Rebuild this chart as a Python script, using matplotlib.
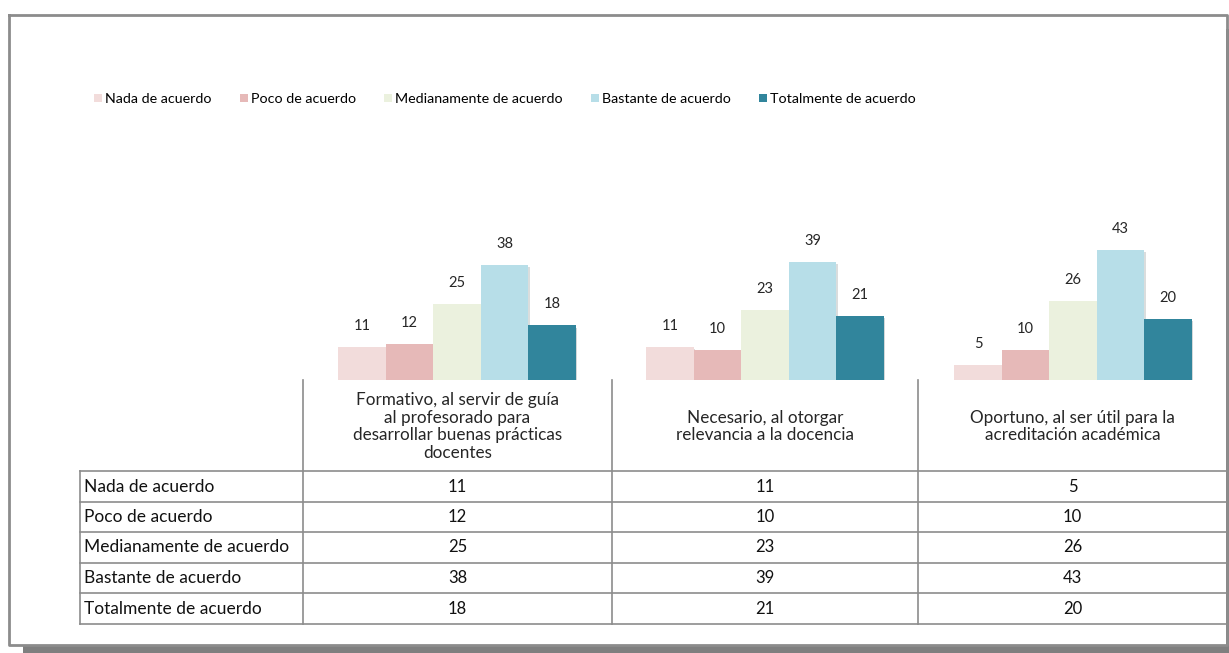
import numpy as np
import matplotlib.pyplot as plt
import matplotlib.patheffects as pe
from matplotlib.patches import Patch

plt.rcParams['font.family'] = ['Lato', 'DejaVu Sans']

# ---------------- datos ----------------
categorias = [
    'Formativo, al servir de guía\nal profesorado para\ndesarrollar buenas prácticas\ndocentes',
    'Necesario, al otorgar\nrelevancia a la docencia',
    'Oportuno, al ser útil para la\nacreditación académica',
]
series = ['Nada de acuerdo', 'Poco de acuerdo', 'Medianamente de acuerdo',
          'Bastante de acuerdo', 'Totalmente de acuerdo']
nada = [11, 11, 5]
poco = [12, 10, 10]
mediana = [25, 23, 26]
bastante = [38, 39, 43]
totalmente = [18, 21, 20]
valores = [nada, poco, mediana, bastante, totalmente]
colores = ['#F2DCDB', '#E6B9B8', '#EBF1DE', '#B7DEE8', '#31859C']

# ---------------- geometría (px) ----------------
W, H = 1229, 653
x_tab, x_c = 80, [303, 612, 918, 1227]
y_base = 380
y_rows = [471, 502, 532, 563, 593, 624]
linea = '#8c8c8c'

fig = plt.figure(figsize=(W / 100, H / 100), dpi=100)

# capa de fondo en píxeles: marco + tabla
ov = fig.add_axes([0, 0, 1, 1])
ov.set_xlim(0, W)
ov.set_ylim(H, 0)
ov.axis('off')

# sombra y marco
ov.fill_between([23, W], 646, H, color='#7f7f7f', lw=0)
ov.fill_between([1226, W], 29, H, color='#7f7f7f', lw=0)
ov.plot([9, 1227, 1227, 9, 9], [15, 15, 645, 645, 15], color=linea, lw=2)

# rejilla de la tabla
for y in y_rows:
    ov.plot([x_tab, 1227], [y, y], color=linea, lw=1.2)
ov.plot([x_tab, x_tab], [y_rows[0], y_rows[-1]], color=linea, lw=1.2)
for x in x_c[:3]:
    ov.plot([x, x], [y_base, y_rows[-1]], color=linea, lw=1.2)

# encabezados de columna
for j, cat in enumerate(categorias):
    xm = (x_c[j] + x_c[j + 1]) / 2
    ov.text(xm, (y_base + y_rows[0]) / 2 + 1, cat, ha='center', va='center',
            fontsize=12.3, linespacing=1.13, color='#262626')

# filas
for i, nombre in enumerate(series):
    yc = (y_rows[i] + y_rows[i + 1]) / 2
    ov.text(x_tab + 4, yc, nombre, ha='left', va='center', fontsize=12.5, color='#111111')
    for j in range(3):
        xm = (x_c[j] + x_c[j + 1]) / 2
        ov.text(xm, yc, str(valores[i][j]), ha='center', va='center',
                fontsize=12, color='#111111')

# ---------------- barras ----------------
top = 200
ax = fig.add_axes([x_c[0] / W, 1 - y_base / H, (x_c[3] - x_c[0]) / W, (y_base - top) / H])
ax.patch.set_alpha(0)
ax.set_xlim(-0.5, 2.5)
ax.set_ylim(0, (y_base - top) / 3.03)
ax.axis('off')

bw = 0.154
xs = np.arange(len(categorias))
for i, (nombre, vals, col) in enumerate(zip(series, valores, colores)):
    bars = ax.bar(xs + (i - 2) * bw, vals, bw, color=col, label=nombre, zorder=2)
    for b in bars:
        b.set_path_effects([pe.SimplePatchShadow(offset=(1, -1.5), alpha=0.18), pe.Normal()])
    for x, v in zip(xs + (i - 2) * bw, vals):
        ax.annotate(str(v), (x, v), xytext=(0, 14), textcoords='offset pixels',
                    ha='center', va='bottom', fontsize=10.5, color='#262626')

# leyenda
handles = [Patch(facecolor=c, edgecolor='none') for c in colores]
fig.legend(handles, series, loc='center left', bbox_to_anchor=(94 / W, 1 - 99 / H),
           ncol=5, frameon=False, fontsize=10.3, handlelength=0.55, handleheight=0.55,
           handletextpad=0.2, columnspacing=2.0, borderpad=0, borderaxespad=0)

fig.savefig('out.png', dpi=100, facecolor='white')
